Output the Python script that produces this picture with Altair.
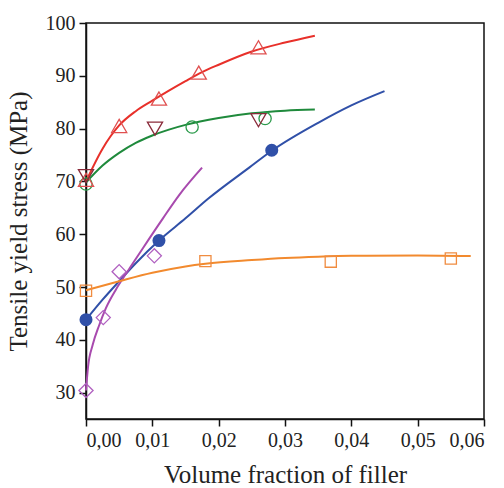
import altair as alt
import pandas as pd

# ---- fitted curves ----
red_cx = [0, 0.0025, 0.005, 0.0075, 0.01, 0.0125, 0.015, 0.0175, 0.02, 0.025, 0.03, 0.0345]
red_cy = [70, 76.2, 80.6, 83.3, 85.3, 87.2, 89.0, 90.7, 92.1, 94.6, 96.3, 97.6]

green_cx = [0, 0.0025, 0.005, 0.0075, 0.01, 0.0125, 0.015, 0.02, 0.025, 0.03, 0.0345]
green_cy = [69.8, 73.0, 75.4, 77.3, 78.7, 79.8, 80.7, 82.0, 82.9, 83.4, 83.6]

blue_cx = [0, 0.0025, 0.005, 0.0075, 0.011, 0.015, 0.0184, 0.0247, 0.028, 0.035, 0.04, 0.045]
blue_cy = [43.8, 47.6, 51.1, 54.5, 58.8, 63.0, 66.7, 72.7, 75.8, 81.1, 84.4, 87.1]

mag_cx = [0, 0.0003, 0.001, 0.002, 0.003, 0.0045, 0.0056, 0.0066, 0.0086, 0.0116, 0.0141, 0.0175]
mag_cy = [30.4, 34.8, 39.0, 42.8, 46.0, 49.5, 51.7, 53.6, 57.4, 63.0, 67.5, 72.6]

orange_cx = [0, 0.005, 0.01, 0.015, 0.018, 0.025, 0.03, 0.035, 0.04, 0.05, 0.058]
orange_cy = [49.4, 51.1, 52.7, 53.9, 54.4, 55.1, 55.5, 55.75, 55.9, 55.95, 55.85]

# ---- measured points ----
tri_up_x = [0, 0.005, 0.011, 0.017, 0.026]
tri_up_y = [70.3, 80.5, 85.7, 90.6, 95.4]

tri_dn_x = [0, 0.0104, 0.026]
tri_dn_y = [71.0, 80.0, 81.6]

gcirc_x = [0, 0.016, 0.027]
gcirc_y = [69.5, 80.3, 81.9]

bdot_x = [0, 0.011, 0.028]
bdot_y = [43.8, 58.8, 75.9]

diam_x = [0, 0.0026, 0.005, 0.0103]
diam_y = [30.4, 44.2, 52.9, 55.9]

sq_x = [0, 0.018, 0.0369, 0.055]
sq_y = [49.3, 54.9, 54.8, 55.4]

curve_names = ["red", "green", "blue", "magenta", "orange"]
curve_colors = ["#e8302a", "#1f8a3c", "#3050a8", "#a84aae", "#f28a2e"]

rows = []
for name, xs, ys in zip(curve_names,
                        [red_cx, green_cx, blue_cx, mag_cx, orange_cx],
                        [red_cy, green_cy, blue_cy, mag_cy, orange_cy]):
    for x, y in zip(xs, ys):
        rows.append({"series": name, "x": x, "y": y})
curves = pd.DataFrame(rows)

FONT = "'Times New Roman', Times, 'Liberation Serif', Tinos, serif"

xscale = alt.Scale(domain=[0, 0.06], nice=False)
yscale = alt.Scale(domain=[25, 100], nice=False, zero=False)

xaxis = alt.Axis(values=[0, 0.01, 0.02, 0.03, 0.04, 0.05, 0.06],
                 labelExpr="replace(format(datum.value, '.2f'), '.', ',')",
                 title="Volume fraction of filler", titlePadding=12)
yaxis = alt.Axis(values=[30, 40, 50, 60, 70, 80, 90, 100],
                 title="Tensile yield stress (MPa)", titlePadding=14)

lines = alt.Chart(curves).mark_line(strokeWidth=2, interpolate="monotone").encode(
    x=alt.X("x:Q", scale=xscale, axis=xaxis),
    y=alt.Y("y:Q", scale=yscale, axis=yaxis),
    color=alt.Color("series:N", scale=alt.Scale(domain=curve_names, range=curve_colors), legend=None),
    detail="series:N",
)


def pts(xs, ys, shape, color, size, filled=False):
    df = pd.DataFrame({"x": xs, "y": ys})
    if filled:
        m = alt.Chart(df).mark_point(shape=shape, size=size, filled=True, color=color, opacity=1)
    else:
        m = alt.Chart(df).mark_point(shape=shape, size=size, filled=False, color=color,
                                     strokeWidth=1.3, opacity=1)
    return m.encode(x=alt.X("x:Q", scale=xscale), y=alt.Y("y:Q", scale=yscale))


layers = [
    lines,
    pts(gcirc_x, gcirc_y, "circle", "#2a9a4a", 150),
    pts(tri_up_x, tri_up_y, "triangle-up", "#e05050", 230),
    pts(tri_dn_x, tri_dn_y, "triangle-down", "#8a2b3a", 230),
    pts(sq_x, sq_y, "square", "#f08c40", 125),
    pts(diam_x, diam_y, "diamond", "#b060c0", 200),
    pts(bdot_x, bdot_y, "circle", "#3050a8", 170, filled=True),
]

chart = alt.layer(*layers).properties(
    width=398, height=396,
    autosize=alt.AutoSizeParams(type="none"),
    padding={"left": 86, "top": 23, "right": 20, "bottom": 69},
).configure_view(
    stroke="#111", strokeWidth=1.5
).configure_axis(
    grid=False,
    labelFont=FONT, labelFontSize=20, labelColor="#222",
    titleFont=FONT, titleFontSize=25, titleColor="#222", titleFontWeight="normal",
    domainColor="#111", domainWidth=1.5, tickColor="#111", tickWidth=1.5, tickSize=7,
    labelPadding=4,
)

chart.save("out.html", embed_options={"renderer": "svg", "actions": False})
